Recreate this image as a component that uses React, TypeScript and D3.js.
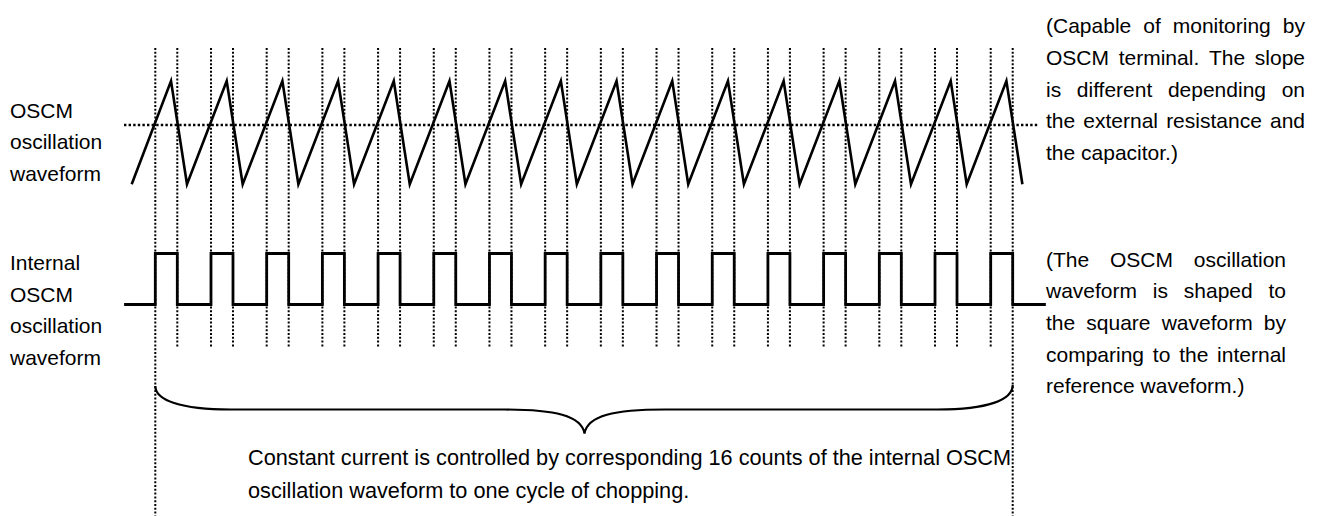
import React from "react";
import * as d3 from "d3";

// ---- data (time in units of one internal OSCM period) ----
const counts = [0, 1, 2, 3, 4, 5, 6, 7, 8, 9, 10, 11, 12, 13, 14, 15]; // start (rising edge) of each of the 16 counts
const pulseWidth = [0.395]; // high duration of each internal pulse
const sawShape = [
  { offset: 0.282, level: 1 }, // peak
  { offset: 0.569, level: 0 }, // trough
];
const sawStart = [{ t: -0.424, level: 0 }];
const threshold = [0.574];
const squareStart = [-0.56];
const squareEnd = [15.99];

const leftLabelTop = ["OSCM", "oscillation", "waveform"];
const leftLabelBottom = ["Internal", "OSCM", "oscillation", "waveform"];
const noteTop = [
  "(Capable of monitoring by",
  "OSCM terminal. The slope",
  "is different depending on",
  "the external resistance and",
  "the capacitor.)",
];
const noteBottom = [
  "(The OSCM oscillation",
  "waveform is shaped to",
  "the square waveform by",
  "comparing to the internal",
  "reference waveform.)",
];
const braceText = [
  "Constant current is controlled by corresponding 16 counts of the internal OSCM",
  "oscillation waveform to one cycle of chopping.",
];

const W = 1324;
const H = 516;
const FONT = "'Liberation Sans', Arial, sans-serif";
const FS = 21;

const x = d3.scaleLinear().domain([0, 15]).range([155.3, 990.7]);
const ySaw = d3.scaleLinear().domain([0, 1]).range([184.3, 81]);
const ySq = d3.scaleLinear().domain([0, 1]).range([304.5, 253.5]);

let ctx: CanvasRenderingContext2D | null = null;
function measure(s: string): number {
  if (!ctx) {
    const c = document.createElement("canvas");
    ctx = c.getContext("2d");
  }
  if (!ctx) return s.length * FS * 0.5;
  ctx.font = `${FS}px "Liberation Sans"`;
  return ctx.measureText(s).width;
}

function Justified({
  lines,
  x0,
  width,
  y0,
  dy,
}: {
  lines: string[];
  x0: number;
  width: number;
  y0: number;
  dy: number;
}) {
  return (
    <g>
      {lines.map((line, i) => {
        const y = y0 + i * dy;
        const last = i === lines.length - 1;
        const words = line.split(" ");
        if (last || words.length < 2) {
          return (
            <text key={i} x={x0} y={y}>
              {line}
            </text>
          );
        }
        const ws = words.map(measure);
        const total = d3.sum(ws);
        const gap = (width - total) / (words.length - 1);
        let cx = x0;
        return (
          <g key={i}>
            {words.map((w, j) => {
              const px = cx;
              cx += ws[j] + gap;
              return (
                <text key={j} x={px} y={y}>
                  {w}
                </text>
              );
            })}
          </g>
        );
      })}
    </g>
  );
}

export default function App() {
  const pw = pulseWidth[0];

  // sawtooth points
  const sawPts: [number, number][] = [[sawStart[0].t, sawStart[0].level]];
  counts.forEach((c) => {
    sawShape.forEach((s) => sawPts.push([c + s.offset, s.level]));
  });
  const sawLine = d3
    .line<[number, number]>()
    .x((d) => x(d[0]))
    .y((d) => ySaw(d[1]));

  // square wave points
  const sqPts: [number, number][] = [[squareStart[0], 0]];
  counts.forEach((c) => {
    sqPts.push([c, 0], [c, 1], [c + pw, 1], [c + pw, 0]);
  });
  sqPts.push([squareEnd[0], 0]);
  const sqLine = d3
    .line<[number, number]>()
    .x((d) => x(d[0]))
    .y((d) => ySq(d[1]));

  const edges: { t: number; long: boolean }[] = [];
  counts.forEach((c, i) => {
    edges.push({ t: c, long: i === 0 });
    edges.push({ t: c + pw, long: i === counts.length - 1 });
  });

  // brace
  const bx0 = x(counts[0]);
  const bx1 = x(counts[counts.length - 1] + pw);
  const bm = (bx0 + bx1) / 2 + 0.5;
  const yEnd = 386;
  const yMid = 409.5;
  const yTip = 433.5;
  const brace =
    `M${bx0},${yEnd} C${bx0},${yEnd + 14} ${bx0 + 25},${yMid} ${bx0 + 75},${yMid} ` +
    `L${bm - 80},${yMid} C${bm - 30},${yMid} ${bm - 3},${yMid + 6} ${bm},${yTip} ` +
    `C${bm + 3},${yMid + 6} ${bm + 30},${yMid} ${bm + 80},${yMid} ` +
    `L${bx1 - 75},${yMid} C${bx1 - 25},${yMid} ${bx1},${yEnd + 14} ${bx1},${yEnd - 1}`;

  return (
    <svg
      width={W}
      height={H}
      style={{ position: "absolute", left: 0, top: 0, background: "#fff" }}
      fontFamily={FONT}
      fontSize={FS}
      fill="#000"
    >
      {/* vertical dotted guides */}
      {edges.map((e, i) => (
        <line
          key={i}
          x1={x(e.t)}
          x2={x(e.t)}
          y1={48}
          y2={e.long ? H : 347}
          stroke="#000"
          strokeWidth={2}
          strokeDasharray="2,1.8"
        />
      ))}
      {/* threshold dotted line */}
      <line
        x1={124}
        x2={1039}
        y1={ySaw(threshold[0])}
        y2={ySaw(threshold[0])}
        stroke="#000"
        strokeWidth={2.4}
        strokeDasharray="2.4,2.2"
      />
      <path d={sawLine(sawPts) || ""} fill="none" stroke="#000" strokeWidth={2.6} strokeLinejoin="miter" />
      <path d={sqLine(sqPts) || ""} fill="none" stroke="#000" strokeWidth={2.8} strokeLinejoin="miter" />
      <path d={brace} fill="none" stroke="#000" strokeWidth={2.2} />

      {leftLabelTop.map((s, i) => (
        <text key={"lt" + i} x={10} y={117.5 + i * 31.6}>
          {s}
        </text>
      ))}
      {leftLabelBottom.map((s, i) => (
        <text key={"lb" + i} x={10} y={270 + i * 31.6}>
          {s}
        </text>
      ))}
      {braceText.map((s, i) => (
        <text key={"bt" + i} x={248} y={465 + i * 32.5} fontSize={21.7}>
          {s}
        </text>
      ))}
      <Justified lines={noteTop} x0={1046} width={259} y0={33} dy={31.8} />
      <Justified lines={noteBottom} x0={1046} width={240} y0={266.7} dy={31.6} />
    </svg>
  );
}
